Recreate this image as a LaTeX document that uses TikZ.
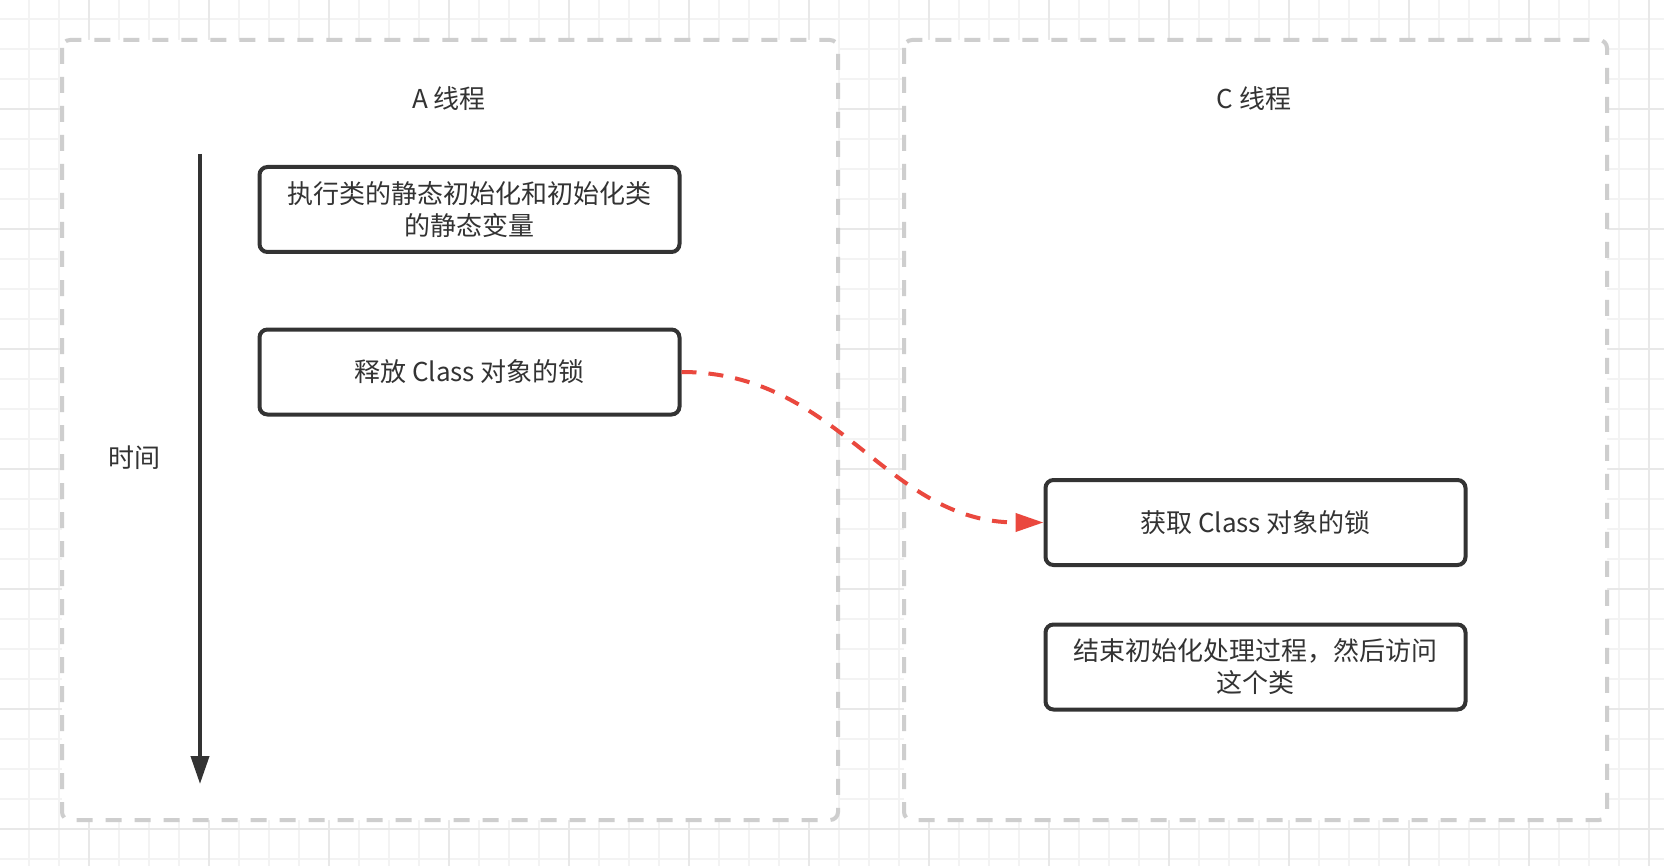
\documentclass[tikz,border=0pt]{standalone}
\usepackage{xcolor}
\usepackage{fontspec}
\usepackage{tikz}
\usetikzlibrary{arrows.meta}
\newfontfamily\cjk{Noto Sans CJK SC}
\definecolor{gridminor}{RGB}{243,243,243}
\definecolor{gridmajor}{RGB}{232,232,232}
\definecolor{lanegray}{RGB}{206,206,206}
\definecolor{inkgray}{RGB}{51,51,51}
\definecolor{lockred}{RGB}{234,72,62}

\begin{document}
\begin{tikzpicture}[x=0.5pt, y=-0.5pt,
    lane/.style={draw=lanegray, fill=white, line width=2pt, dash pattern=on 8pt off 6.5pt, rounded corners=4pt},
    stepbox/.style={draw=inkgray, line width=2pt, rounded corners=4pt, minimum width=210pt, minimum height=42.5pt, inner sep=0pt, align=center, text=inkgray, font=\cjk\fontsize{13}{16}\selectfont},
    caption/.style={text=inkgray, font=\cjk\fontsize{13}{16}\selectfont}]

    \useasboundingbox (0,0) rectangle (1664,866);
    \fill[white] (0,0) rectangle (1664,866);

    \foreach \i in {0,...,54} {
        \draw[gridminor, line width=0.6pt] (29+30*\i, 0) -- (29+30*\i, 866);
    }
    \foreach \i in {0,...,28} {
        \draw[gridminor, line width=0.6pt] (0, 19+30*\i) -- (1664, 19+30*\i);
    }
    \foreach \i in {0,...,13} {
        \draw[gridmajor, line width=0.6pt] (89+120*\i, 0) -- (89+120*\i, 866);
    }
    \foreach \i in {0,...,6} {
        \draw[gridmajor, line width=0.6pt] (0, 109+120*\i) -- (1664, 109+120*\i);
    }

    \draw[lane] (62,40) rectangle (838,820);
    \draw[lane] (904,40) rectangle (1607,820);

    \node[caption] (threadA) at (449,99) {A 线程};
    \node[caption] (threadC) at (1254,99) {C 线程};
    \node[caption] (timeLabel) at (134,458) {时间};

    \coordinate (timeTop) at (200,154);
    \coordinate (timeEnd) at (200,784);
    \draw[inkgray, line width=2pt, -{Triangle[length=14pt, width=9pt]}] (timeTop) -- (timeEnd);

    \node[stepbox] (initA) at (469.5,209.5) {执行类的静态初始化和初始化类\\的静态变量};
    \node[stepbox] (releaseA) at (469.5,372) {释放 Class 对象的锁};
    \node[stepbox] (acquireC) at (1255.5,522.5) {获取 Class 对象的锁};
    \node[stepbox] (finishC) at (1255.5,667) {结束初始化处理过程，然后访问\\这个类};

    \draw[lockred, line width=2pt, dash pattern=on 7.5pt off 6pt, -{Triangle[length=14pt, width=9pt]}]
        (releaseA.east) .. controls +(158,0) and +(-158,0) .. (acquireC.west);

\end{tikzpicture}
\end{document}
